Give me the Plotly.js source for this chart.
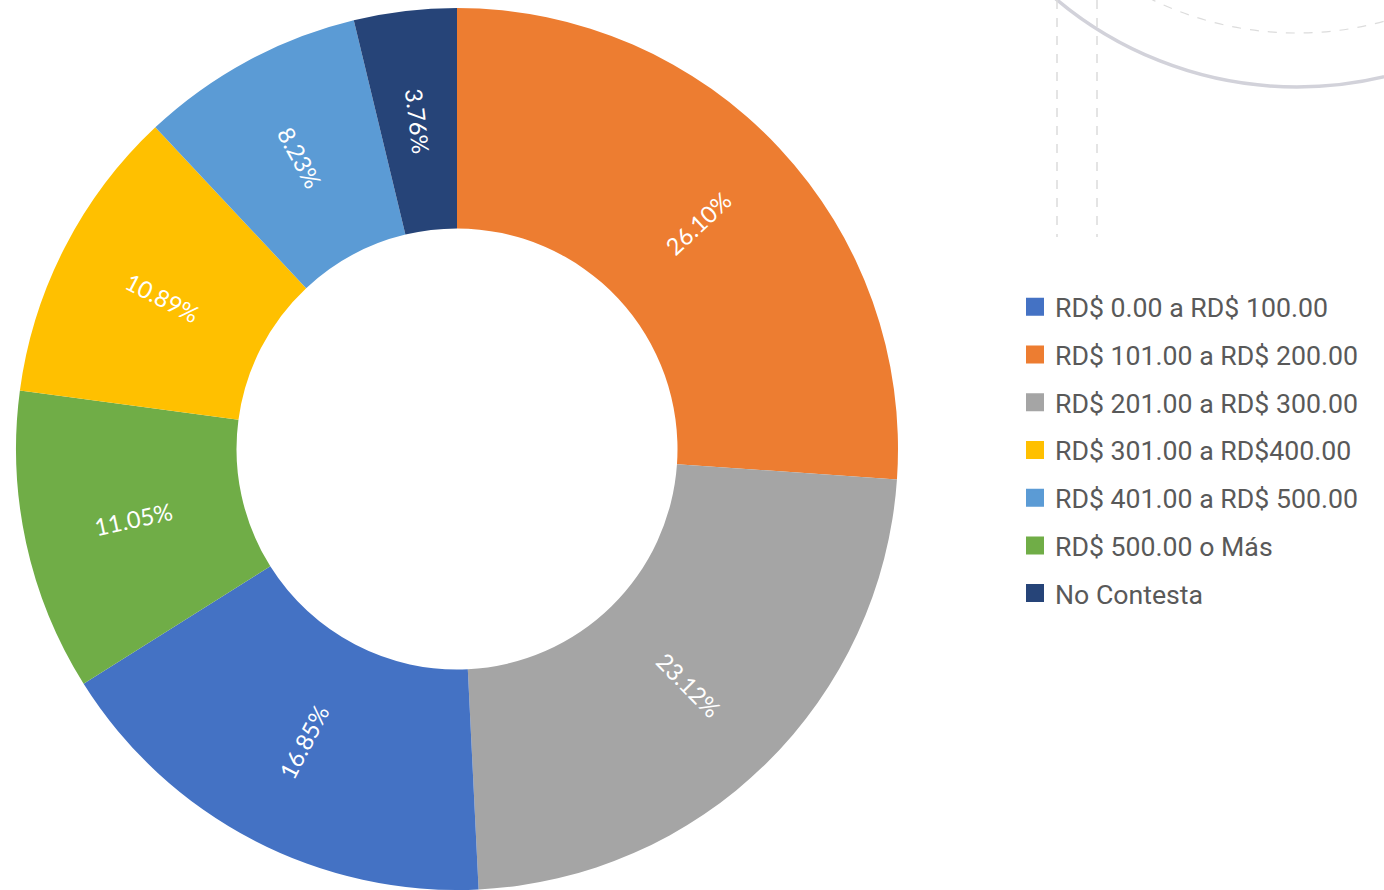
<!DOCTYPE html>
<html>
<head>
<meta charset="utf-8">
<script src="https://cdn.plot.ly/plotly-3.0.1.min.js"></script>
<style>
  html, body { margin: 0; padding: 0; background: #fff; }
  #chart { width: 1384px; height: 890px; }
</style>
</head>
<body>
<div id="chart"></div>
<script>
// slices, clockwise from 12 o'clock
var sliceLabels = ["RD$ 101.00 a RD$ 200.00", "RD$ 201.00 a RD$ 300.00", "RD$ 0.00 a RD$ 100.00",
                   "RD$ 500.00 o Más", "RD$ 301.00 a RD$400.00", "RD$ 401.00 a RD$ 500.00", "No Contesta"];
var sliceValues = [26.10, 23.12, 16.85, 11.05, 10.89, 8.23, 3.76];

// legend order as in the original
var legendLabels = ["RD$ 0.00 a RD$ 100.00", "RD$ 101.00 a RD$ 200.00", "RD$ 201.00 a RD$ 300.00",
                    "RD$ 301.00 a RD$400.00", "RD$ 401.00 a RD$ 500.00", "RD$ 500.00 o Más", "No Contesta"];

var colorFor = {
    "RD$ 0.00 a RD$ 100.00": "#4472C4",
    "RD$ 101.00 a RD$ 200.00": "#ED7D31",
    "RD$ 201.00 a RD$ 300.00": "#A5A5A5",
    "RD$ 301.00 a RD$400.00": "#FFC000",
    "RD$ 401.00 a RD$ 500.00": "#5B9BD5",
    "RD$ 500.00 o Más": "#70AD47",
    "No Contesta": "#264478"
};

var W = 1384, H = 890;
function px(x) { return x / W; }
function py(y) { return 1 - y / H; }

// donut placement (pixels)
var cx = 457, cy = 449, rOut = 441, holeFrac = 0.5;

var traces = [];
traces.push({
    type: "pie",
    labels: sliceLabels,
    values: sliceValues,
    sort: false,
    direction: "clockwise",
    rotation: 0,
    hole: holeFrac,
    marker: { colors: sliceLabels.map(function (l) { return colorFor[l]; }) },
    textinfo: "none",
    showlegend: false,
    hoverinfo: "label+value",
    domain: { x: [px(cx - rOut), px(cx + rOut)], y: [py(cy + rOut), py(cy - rOut)] }
});

legendLabels.forEach(function (l) {
    traces.push({
        type: "scatter",
        mode: "markers",
        x: [null], y: [null],
        name: l,
        legendgroup: l,
        marker: { symbol: "square", size: 16, color: colorFor[l], line: { color: colorFor[l], width: 2 } },
        showlegend: true
    });
});

// percentage labels along the radius, centred in the ring
var total = sliceValues.reduce(function (a, b) { return a + b; }, 0);
var rMid = rOut * (1 + holeFrac) / 2;
var annotations = [];
var cum = 0;
sliceValues.forEach(function (v) {
    var mid = (cum + v / 2) / total * 360;
    cum += v;
    var rad = mid * Math.PI / 180;
    var ang = mid - 90;
    if (ang > 90) ang -= 180;
    annotations.push({
        xref: "paper", yref: "paper",
        x: px(cx + rMid * Math.sin(rad)),
        y: py(cy - rMid * Math.cos(rad)),
        text: v.toFixed(2) + "%",
        textangle: ang,
        showarrow: false,
        xanchor: "center", yanchor: "middle",
        font: { family: "Lato", size: 23.5, color: "#ffffff" }
    });
});

var grayLine = "#d2d2da";
var dashLine = "#dcdcdc";

var layout = {
    width: W,
    height: H,
    margin: { l: 0, r: 0, t: 0, b: 0 },
    paper_bgcolor: "#ffffff",
    plot_bgcolor: "rgba(0,0,0,0)",
    xaxis: { visible: false, domain: [0.99, 1] },
    yaxis: { visible: false, domain: [0.99, 1] },
    showlegend: true,
    legend: {
        x: px(1015), y: py(283),
        xanchor: "left", yanchor: "top",
        font: { family: "Roboto", size: 26.7, color: "#595959" },
        tracegroupgap: 10,
        itemclick: false
    },
    annotations: annotations,
    shapes: [
        { type: "circle", xref: "paper", yref: "paper", layer: "below",
          x0: px(1297 - 374), x1: px(1297 + 374), y0: py(-287 + 374), y1: py(-287 - 374),
          line: { color: grayLine, width: 3.5 } },
        { type: "circle", xref: "paper", yref: "paper", layer: "below",
          x0: px(1297 - 331), x1: px(1297 + 331), y0: py(-298 + 331), y1: py(-298 - 331),
          line: { color: dashLine, width: 1.2, dash: "dash" } },
        { type: "line", xref: "paper", yref: "paper", layer: "below",
          x0: px(1057), x1: px(1057), y0: py(0), y1: py(237),
          line: { color: dashLine, width: 1.5, dash: "dash" } },
        { type: "line", xref: "paper", yref: "paper", layer: "below",
          x0: px(1097), x1: px(1097), y0: py(0), y1: py(237),
          line: { color: dashLine, width: 1.5, dash: "dash" } }
    ]
};

Plotly.newPlot("chart", traces, layout, { displayModeBar: false, staticPlot: true });
</script>
</body>
</html>
